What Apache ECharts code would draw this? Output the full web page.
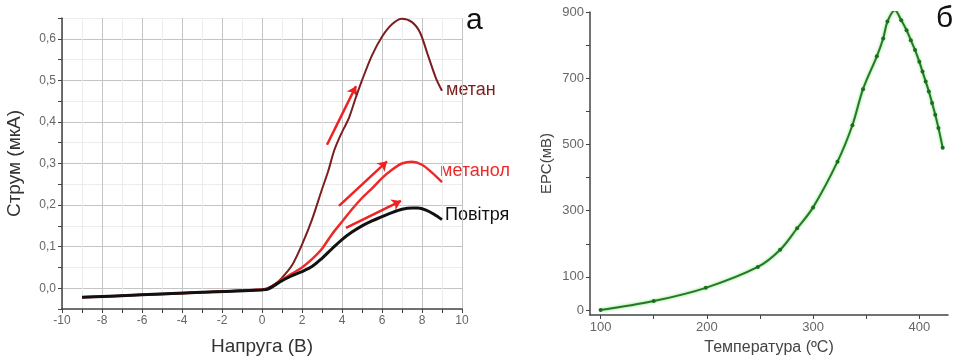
<!DOCTYPE html>
<html><head><meta charset="utf-8">
<script src="https://cdn.jsdelivr.net/npm/echarts@6/dist/echarts.min.js"></script>
<style>html,body{margin:0;padding:0;background:#fff}#c{width:962px;height:361px}</style>
</head><body><div id="c"></div>
<script>
// ---- Left chart (a) data ----
const airX = [-9,-6,-3,0,0.3,1,1.5,2,2.5,3,3.5,4,4.5,5,5.5,6,6.5,7,7.5,7.8,8.2,8.6,9];
const airY = [-0.022,-0.016,-0.01,-0.004,-0.002,0.018,0.03,0.04,0.052,0.072,0.095,0.117,0.135,0.15,0.162,0.172,0.182,0.19,0.193,0.193,0.188,0.178,0.165];
const methanolX = [-9,-6,-3,0,0.3,1,1.5,2,2.5,3,3.5,4,4.5,5,5.5,6,6.5,7,7.5,8,8.5,9];
const methanolY = [-0.022,-0.016,-0.01,-0.003,0,0.02,0.035,0.05,0.07,0.095,0.13,0.16,0.19,0.217,0.24,0.265,0.285,0.3,0.304,0.297,0.278,0.255];
const methaneX = [-9,-6,-3,0,0.3,0.7,1,1.5,2,2.5,3,3.3,3.6,3.85,4.1,4.35,4.7,5,5.5,6,6.5,7,7.5,7.9,8.3,8.7,9];
const methaneY = [-0.022,-0.016,-0.01,-0.003,0,0.012,0.025,0.055,0.105,0.165,0.238,0.28,0.33,0.36,0.385,0.41,0.46,0.5,0.56,0.605,0.635,0.648,0.64,0.615,0.56,0.505,0.475];
// arrows: [x0,y0,x1,y1]
const arrows = [[3.25,0.345,4.7,0.486],[3.85,0.198,6.25,0.305],[4.2,0.145,6.95,0.21]];
const leftXTicks = [-10,-8,-6,-4,-2,0,2,4,6,8,10];
const leftYTicks = [0.0,0.1,0.2,0.3,0.4,0.5,0.6];
const curveLabels = ['метан','метанол','Повітря'];

// ---- Right chart (б) data ----
const tempX = [100,150,199,248,269,285,300,323,337,347,360,366,370,377,383,388,392,396,400,403,406,409,412,415,418,422];
const emfY = [0,27,67,130,182,247,310,448,558,667,766,820,871,905,875,845,815,785,750,720,690,660,625,590,550,490];
const rightXTicks = [100,150,200,250,300,350,400];
const rightXLabels = [100,200,300,400];
const rightYTicks = [0,100,200,300,400,500,600,700,800,900];
const rightYLabels = [0,100,300,500,700,900];

const zip = (a,b)=>a.map((v,i)=>[v,b[i]]);
const font = '"Liberation Sans", Arial, sans-serif';
const chart = echarts.init(document.getElementById('c'));
chart.setOption({
  animation:false,
  textStyle:{fontFamily:font},
  grid:[
    {left:62,top:18,width:400,height:294},
    {left:590,top:12,width:358,height:305}
  ],
  xAxis:[
    {gridIndex:0,type:'value',min:-10,max:10,interval:1,
     axisLine:{onZero:false,lineStyle:{color:'#444',width:1.5}},
     axisTick:{inside:false,length:4,lineStyle:{color:'#444'}},
     axisLabel:{color:'#666',fontSize:12,margin:6,formatter:v=>leftXTicks.includes(v)?String(v):''},
     splitLine:{show:true,lineStyle:{color:['#c4c4c4','#ececec'],width:1}},
     name:'Напруга (В)',nameLocation:'middle',nameGap:28,
     nameTextStyle:{color:'#333',fontSize:19,fontFamily:font}},
    {gridIndex:1,type:'value',min:90,max:427,
     axisLine:{onZero:false,lineStyle:{color:'#444',width:1.5}},
     axisTick:{customValues:rightXTicks,length:4,lineStyle:{color:'#444'}},
     axisLabel:{customValues:rightXLabels,color:'#666',fontSize:13,margin:6},
     splitLine:{show:false},
     name:'Температура (ºC)',nameLocation:'middle',nameGap:25,
     nameTextStyle:{color:'#444',fontSize:16,fontFamily:font}}
  ],
  yAxis:[
    {gridIndex:0,type:'value',min:-0.05,max:0.65,interval:0.05,
     axisLine:{show:true,onZero:false,lineStyle:{color:'#444',width:1.5}},
     axisTick:{show:true,length:4,lineStyle:{color:'#444'}},
     axisLabel:{color:'#666',fontSize:12,margin:6,formatter:v=>{
       const r=Math.round(v*100);
       return (r%10===0)?(r/100).toFixed(1).replace('.',','):'';}},
     splitLine:{show:true,lineStyle:{color:['#ececec','#c4c4c4'],width:1}},
     name:'Струм (мкА)',nameLocation:'middle',nameGap:38,
     nameTextStyle:{color:'#333',fontSize:19,fontFamily:font}},
    {gridIndex:1,type:'value',min:-15,max:900,
     axisLine:{show:true,onZero:false,lineStyle:{color:'#444',width:1.5}},
     axisTick:{show:true,customValues:rightYTicks,length:4,lineStyle:{color:'#444'}},
     axisLabel:{customValues:rightYLabels,color:'#666',fontSize:13,margin:6},
     splitLine:{show:false},
     name:'ЕРС(мВ)',nameLocation:'middle',nameGap:36,
     nameTextStyle:{color:'#444',fontSize:15,fontFamily:font}}
  ],
  series:[
    {type:'line',xAxisIndex:0,yAxisIndex:0,data:zip(methaneX,methaneY),smooth:0.3,symbol:'none',
     lineStyle:{color:'#7d1e1e',width:2}},
    {type:'line',xAxisIndex:0,yAxisIndex:0,data:zip(methanolX,methanolY),smooth:0.3,symbol:'none',
     lineStyle:{color:'#ec2a2a',width:2.5}},
    {type:'line',xAxisIndex:0,yAxisIndex:0,data:zip(airX,airY),smooth:0.3,symbol:'none',
     lineStyle:{color:'#111',width:3}},
    {type:'lines',coordinateSystem:'cartesian2d',xAxisIndex:0,yAxisIndex:0,
     symbol:['none','arrow'],symbolSize:9,
     lineStyle:{color:'#ee2222',width:2.5,opacity:1},
     data:arrows.map(a=>({coords:[[a[0],a[1]],[a[2],a[3]]]}))},
    {type:'line',xAxisIndex:1,yAxisIndex:1,data:zip(tempX,emfY),smooth:0.35,
     symbol:'circle',symbolSize:4,
     itemStyle:{color:'#1b6e1b'},
     lineStyle:{color:'#237a23',width:2,shadowColor:'rgba(80,210,80,0.8)',shadowBlur:3}}
  ],
  graphic:[
    {type:'text',left:446,top:81,style:{text:curveLabels[0],fill:'#7d1e1e',font:'18px '+font}},
    {type:'text',left:440,top:162,style:{text:curveLabels[1],fill:'#ec2a2a',font:'18px '+font}},
    {type:'text',left:445,top:206,style:{text:curveLabels[2],fill:'#111',font:'18px '+font}},
    {type:'text',left:466,top:6,style:{text:'а',fill:'#111',font:'30px '+font}},
    {type:'text',left:936,top:4,style:{text:'б',fill:'#111',font:'30px '+font}}
  ]
});
</script></body></html>
